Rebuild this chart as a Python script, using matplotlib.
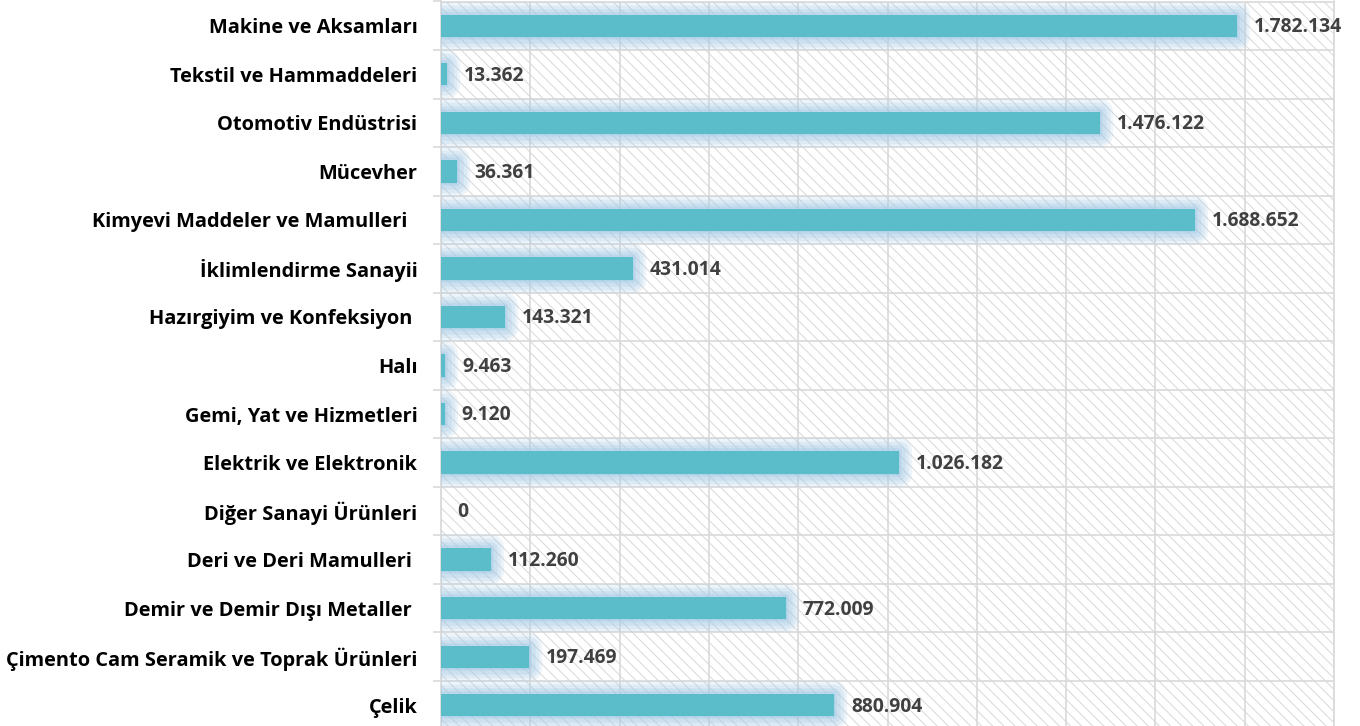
import numpy as np
import matplotlib.pyplot as plt
import matplotlib.patheffects as pe
from matplotlib.patches import Rectangle

plt.rcParams['font.family'] = ['Open Sans', 'DejaVu Sans']
plt.rcParams['hatch.linewidth'] = 0.7

# 15 sektör, yukarıdan aşağıya
categories = [
    "Makine ve Aksamları",
    "Tekstil ve Hammaddeleri",
    "Otomotiv Endüstrisi",
    "Mücevher",
    "Kimyevi Maddeler ve Mamulleri  ",
    "İklimlendirme Sanayii",
    "Hazırgiyim ve Konfeksiyon ",
    "Halı",
    "Gemi, Yat ve Hizmetleri",
    "Elektrik ve Elektronik",
    "Diğer Sanayi Ürünleri",
    "Deri ve Deri Mamulleri ",
    "Demir ve Demir Dışı Metaller ",
    "Çimento Cam Seramik ve Toprak Ürünleri",
    "Çelik",
]
values = [1782134, 13362, 1476122, 36361, 1688652, 431014, 143321,
          9463, 9120, 1026182, 0, 112260, 772009, 197469, 880904]

bar_color = "#5bbdc9"
glow_color = "#a8cce6"
grid_color = "#d9d9d9"


def fmt(v):
    # Türkçe binlik ayırıcı
    return f"{v:,}".replace(",", ".")


fig = plt.figure(figsize=(13.6, 7.26), dpi=100)
ax = fig.add_axes([441 / 1360, -3.5 / 726, 893 / 1360, 728 / 726])

# arka plandaki çizgili desen
ax.add_patch(Rectangle((0, 0), 1, 1, transform=ax.transAxes, facecolor="white",
                       edgecolor="#d8d8d8", hatch="\\\\\\", linewidth=0, zorder=0))

y = np.arange(len(categories))
bars = ax.barh(y, values, height=0.46, color=bar_color, zorder=3)

# çubukların etrafındaki parlama
for b, v in zip(bars, values):
    if v > 0:
        b.set_path_effects([
            pe.Stroke(linewidth=19, foreground=glow_color, alpha=0.2, joinstyle="round"),
            pe.Stroke(linewidth=14, foreground=glow_color, alpha=0.24, joinstyle="round"),
            pe.Stroke(linewidth=9, foreground=glow_color, alpha=0.3, joinstyle="round"),
            pe.Stroke(linewidth=4, foreground=glow_color, alpha=0.4, joinstyle="round"),
            pe.Normal(),
        ])

for yi, v in zip(y, values):
    ax.annotate(fmt(v), (v, yi), xytext=(12, -1), textcoords="offset points",
                va="center", ha="left", fontsize=13.9, fontweight="bold",
                color="#404040", zorder=5, annotation_clip=False)

ax.set_xlim(0, 2000000)
ax.set_ylim(len(categories) - 0.5, -0.5)
ax.set_xticks(np.arange(0, 2000001, 200000))
ax.xaxis.set_tick_params(length=0, labelbottom=False)
ax.set_yticks(y)
ax.set_yticklabels(categories, fontsize=14.4, fontweight="bold", color="black")
ax.set_yticks(np.arange(-0.5, len(categories), 1), minor=True)
ax.tick_params(axis="y", which="major", length=0, pad=17)
ax.tick_params(axis="y", which="minor", length=6, color=grid_color, width=1.2)
ax.grid(axis="x", which="major", color=grid_color, linewidth=1.2, zorder=1)
ax.grid(axis="y", which="minor", color=grid_color, linewidth=1.2, zorder=1)
ax.set_axisbelow(True)
for s in ax.spines.values():
    s.set_color(grid_color)
    s.set_linewidth(1.2)

fig.savefig("out.png", dpi=100, facecolor="white")
